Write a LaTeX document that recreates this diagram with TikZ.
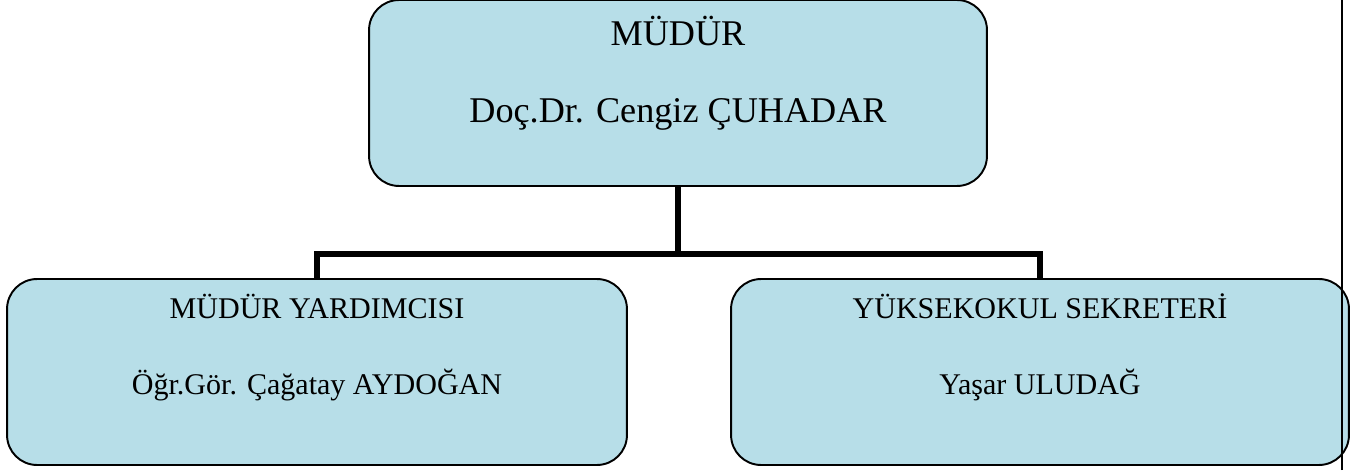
\documentclass[tikz,border=0pt]{standalone}
\usepackage{fontspec}
\setmainfont{Liberation Serif}
\usepackage{tikz}
\usetikzlibrary{calc}
\definecolor{kutu}{HTML}{B7DEE8}
\tikzset{
	birim/.style={draw=black, line width=1.1pt, fill=kutu, rounded corners=0.6cm, minimum width=12.36cm, minimum height=3.72cm, inner sep=0pt},
	baslik/.style={anchor=base, font=\fontsize{20.6}{24}\selectfont},
	altyazi/.style={anchor=base, font=\fontsize{17.1}{20}\selectfont},
	hat/.style={line width=3.4pt}
}

\begin{document}
\begin{tikzpicture}[x=0.02cm, y=0.02cm]
		%%%%% START %%%%%
		\useasboundingbox (0, 0) rectangle (1371, 470);
		
		\node[birim] (mudur) at (678, 377) {};
		\node[birim, minimum width=12.4cm] (yardimci) at (317, 98) {};
		\node[birim] (sekreter) at (1040, 98) {};
		
		\node[baslik] (mudurUnvan) at (678, 424) {MÜDÜR};
		\node[baslik] (mudurAd) at (678, 347) {Doç.Dr. Cengiz ÇUHADAR};
		
		\node[altyazi] (yardimciUnvan) at (317, 152) {MÜDÜR YARDIMCISI};
		\node[altyazi] (yardimciAd) at (317, 76) {Öğr.Gör. Çağatay AYDOĞAN};
		
		\node[altyazi] (sekreterUnvan) at (1040, 152) {YÜKSEKOKUL SEKRETERİ};
		\node[altyazi] (sekreterAd) at (1040, 76) {Yaşar ULUDAĞ};
		
		\coordinate (kol) at (678, 216);
		\draw[hat] (mudur.south) -- (kol);
		\draw[hat] (yardimci.north) |- (kol) -| (sekreter.north);
		
		\draw[line width=1.1pt] (1342, 0) -- (1342, 470);
		
		%%%%% END %%%%%
	\end{tikzpicture}
\end{document}
